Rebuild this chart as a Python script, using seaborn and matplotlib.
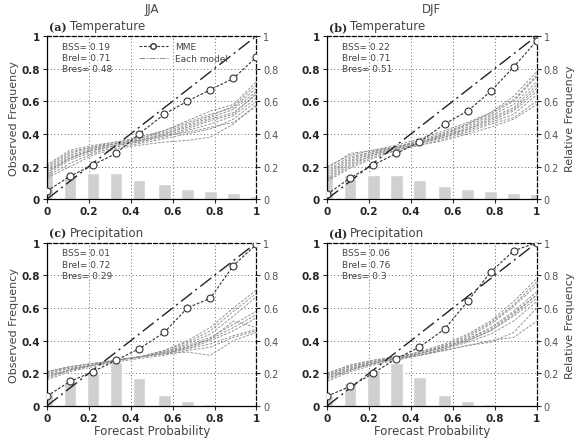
import numpy as np
import pandas as pd
import matplotlib
matplotlib.use("Agg")
import matplotlib.pyplot as plt
import seaborn as sns

sns.set_style("white")
plt.rcParams["font.family"] = ["DejaVu Sans"]

# -----------------------------------
# Data
# -----------------------------------
prob = [0.0, 0.11, 0.22, 0.33, 0.44, 0.56, 0.67, 0.78, 0.89, 1.0]

seasons = ["JJA", "DJF"]
panel_tags = ["(a)", "(b)", "(c)", "(d)"]
panel_vars = ["Temperature", "Temperature", "Precipitation", "Precipitation"]

bss = [0.19, 0.22, 0.01, 0.06]
brel = [0.71, 0.71, 0.72, 0.76]
bres = ["0.48", "0.51", "0.29", "0.3"]

mme_a = [0.05, 0.14, 0.21, 0.28, 0.40, 0.52, 0.60, 0.67, 0.74, 0.87]
mme_b = [0.03, 0.13, 0.21, 0.28, 0.35, 0.46, 0.54, 0.66, 0.81, 0.97]
mme_c = [0.06, 0.15, 0.21, 0.28, 0.35, 0.45, 0.60, 0.66, 0.86, 0.99]
mme_d = [0.06, 0.12, 0.20, 0.29, 0.36, 0.47, 0.64, 0.82, 0.95, 1.00]

hist_a = [0.17, 0.15, 0.16, 0.16, 0.12, 0.09, 0.065, 0.05, 0.04, 0.02]
hist_b = [0.15, 0.15, 0.15, 0.15, 0.12, 0.08, 0.065, 0.05, 0.04, 0.03]
hist_c = [0.08, 0.14, 0.21, 0.27, 0.17, 0.07, 0.03, 0.015, 0.008, 0.0]
hist_d = [0.06, 0.14, 0.22, 0.26, 0.175, 0.07, 0.03, 0.015, 0.008, 0.005]

models_a = [
    [0.21, 0.30, 0.33, 0.35, 0.38, 0.42, 0.47, 0.52, 0.56, 0.68],
    [0.19, 0.28, 0.32, 0.35, 0.37, 0.42, 0.48, 0.54, 0.58, 0.72],
    [0.18, 0.27, 0.31, 0.34, 0.36, 0.40, 0.45, 0.50, 0.55, 0.66],
    [0.17, 0.26, 0.30, 0.33, 0.36, 0.40, 0.44, 0.49, 0.53, 0.64],
    [0.16, 0.25, 0.30, 0.33, 0.35, 0.39, 0.43, 0.48, 0.52, 0.65],
    [0.15, 0.24, 0.29, 0.33, 0.35, 0.38, 0.42, 0.46, 0.51, 0.62],
    [0.20, 0.29, 0.32, 0.34, 0.36, 0.39, 0.41, 0.44, 0.47, 0.57],
    [0.14, 0.22, 0.28, 0.32, 0.34, 0.37, 0.40, 0.43, 0.49, 0.60],
    [0.13, 0.20, 0.27, 0.31, 0.33, 0.35, 0.36, 0.38, 0.46, 0.58],
    [0.17, 0.25, 0.31, 0.34, 0.37, 0.41, 0.46, 0.51, 0.57, 0.70],
]
models_b = [
    [0.20, 0.27, 0.30, 0.33, 0.37, 0.42, 0.47, 0.53, 0.63, 0.78],
    [0.18, 0.26, 0.29, 0.32, 0.36, 0.41, 0.46, 0.52, 0.60, 0.75],
    [0.17, 0.25, 0.29, 0.32, 0.35, 0.40, 0.45, 0.51, 0.58, 0.72],
    [0.16, 0.24, 0.28, 0.32, 0.35, 0.39, 0.44, 0.50, 0.56, 0.70],
    [0.15, 0.23, 0.28, 0.31, 0.34, 0.39, 0.43, 0.49, 0.55, 0.68],
    [0.14, 0.22, 0.27, 0.31, 0.34, 0.38, 0.43, 0.48, 0.54, 0.66],
    [0.13, 0.21, 0.27, 0.31, 0.34, 0.38, 0.42, 0.47, 0.52, 0.64],
    [0.12, 0.20, 0.26, 0.30, 0.33, 0.37, 0.41, 0.46, 0.50, 0.60],
    [0.19, 0.28, 0.30, 0.32, 0.35, 0.40, 0.46, 0.53, 0.61, 0.76],
    [0.11, 0.19, 0.25, 0.30, 0.33, 0.36, 0.40, 0.44, 0.49, 0.58],
]
models_c = [
    [0.21, 0.24, 0.26, 0.28, 0.30, 0.34, 0.40, 0.48, 0.60, 0.71],
    [0.21, 0.24, 0.26, 0.28, 0.30, 0.34, 0.39, 0.46, 0.58, 0.69],
    [0.20, 0.23, 0.25, 0.28, 0.30, 0.33, 0.38, 0.44, 0.55, 0.67],
    [0.20, 0.23, 0.25, 0.28, 0.30, 0.33, 0.37, 0.42, 0.50, 0.58],
    [0.19, 0.22, 0.25, 0.28, 0.30, 0.32, 0.36, 0.41, 0.48, 0.56],
    [0.18, 0.22, 0.25, 0.28, 0.30, 0.32, 0.35, 0.40, 0.46, 0.54],
    [0.17, 0.22, 0.25, 0.28, 0.30, 0.32, 0.35, 0.38, 0.43, 0.47],
    [0.16, 0.21, 0.24, 0.27, 0.29, 0.31, 0.34, 0.36, 0.42, 0.46],
    [0.21, 0.24, 0.26, 0.28, 0.30, 0.33, 0.36, 0.41, 0.52, 0.48],
    [0.18, 0.22, 0.25, 0.28, 0.30, 0.32, 0.33, 0.31, 0.40, 0.45],
]
models_d = [
    [0.20, 0.25, 0.28, 0.30, 0.33, 0.38, 0.44, 0.52, 0.64, 0.78],
    [0.19, 0.24, 0.27, 0.30, 0.33, 0.37, 0.43, 0.51, 0.62, 0.76],
    [0.19, 0.24, 0.27, 0.30, 0.32, 0.37, 0.42, 0.50, 0.61, 0.74],
    [0.18, 0.23, 0.27, 0.29, 0.32, 0.36, 0.41, 0.48, 0.58, 0.70],
    [0.18, 0.23, 0.26, 0.29, 0.32, 0.36, 0.41, 0.47, 0.57, 0.68],
    [0.17, 0.22, 0.26, 0.29, 0.31, 0.35, 0.40, 0.46, 0.55, 0.66],
    [0.16, 0.22, 0.26, 0.29, 0.31, 0.35, 0.39, 0.44, 0.52, 0.64],
    [0.15, 0.21, 0.25, 0.28, 0.31, 0.34, 0.37, 0.40, 0.42, 0.52],
    [0.20, 0.25, 0.28, 0.30, 0.32, 0.36, 0.40, 0.46, 0.56, 0.68],
    [0.17, 0.22, 0.26, 0.29, 0.31, 0.34, 0.37, 0.39, 0.45, 0.60],
]

mme_all = [mme_a, mme_b, mme_c, mme_d]
hist_all = [hist_a, hist_b, hist_c, hist_d]
models_all = [models_a, models_b, models_c, models_d]

ticks = [0, 0.2, 0.4, 0.6, 0.8, 1]
tick_labels = ["0", "0.2", "0.4", "0.6", "0.8", "1"]

# -----------------------------------
# Figure
# -----------------------------------
fig = plt.figure(figsize=(5.79, 4.39), dpi=100)

lefts = [0.081, 0.565]
bottoms = [0.544, 0.073]
w, h = 0.362, 0.372

for i in range(4):
    row, col = divmod(i, 2)
    ax = fig.add_axes([lefts[col], bottoms[row], w, h])

    # histogram of forecast probability
    for xv, hv in zip(prob, hist_all[i]):
        ax.bar(xv, hv, width=0.06, color="#d0d0d0", zorder=1)

    # individual models
    long = pd.DataFrame(
        [(k, x, y) for k, m in enumerate(models_all[i]) for x, y in zip(prob, m)],
        columns=["model", "p", "freq"],
    )
    sns.lineplot(data=long, x="p", y="freq", units="model", estimator=None,
                 color="#8f8f8f", linewidth=0.65, linestyle=(0, (3, 1.5)),
                 ax=ax, zorder=2)

    # perfect reliability
    ax.plot([0, 1], [0, 1], color="#222222", linewidth=1.0,
            linestyle=(0, (10, 3, 1.5, 3)), zorder=3)

    # multi-model ensemble
    sns.lineplot(x=prob, y=mme_all[i], ax=ax, color="#333333", linewidth=0.8,
                 linestyle=(0, (2.5, 1.5)), marker="o", markersize=5,
                 markerfacecolor="white", markeredgecolor="#333333",
                 markeredgewidth=0.8, zorder=4)

    ax.set_xlim(0, 1)
    ax.set_ylim(0, 1)
    ax.set_xticks(ticks)
    ax.set_xticklabels(tick_labels, fontsize=7.5, fontweight="bold")
    ax.set_yticks(ticks)
    ax.set_yticklabels(tick_labels, fontsize=7.5, fontweight="bold")
    ax.tick_params(length=3, width=0.8, pad=2, direction="out", left=True, bottom=True)
    ax.grid(True, color="#666666", linestyle=(0, (1, 2.5)), linewidth=0.7)
    ax.set_axisbelow(True)
    ax.set_xlabel("")
    ax.set_ylabel("")
    for side in ["top", "right"]:
        ax.spines[side].set_linestyle((0, (3, 2)))
    for sp in ax.spines.values():
        sp.set_color("black")
        sp.set_linewidth(0.9)

    ax2 = ax.twinx()
    ax2.set_ylim(0, 1)
    ax2.set_yticks(ticks)
    ax2.set_yticklabels(tick_labels, fontsize=7, color="#555555")
    ax2.tick_params(length=3, width=0.8, pad=2, right=True)
    for sp in ax2.spines.values():
        sp.set_visible(False)

    if col == 0:
        ax.set_ylabel("Observed Frequency", fontsize=8, color="#444444", labelpad=2)
    else:
        ax2.set_ylabel("Relative Frequency", fontsize=8, color="#444444", labelpad=4)
    if row == 1:
        ax.set_xlabel("Forecast Probability", fontsize=8.5, color="#444444", labelpad=1)
    if row == 0:
        ax.text(0.5, 1.13, seasons[col], transform=ax.transAxes, ha="center",
                va="bottom", fontsize=8.5, color="#444444")

    ax.text(0.01, 1.025, panel_tags[i], transform=ax.transAxes, ha="left",
            va="bottom", fontsize=8, fontweight="bold", family="serif")
    ax.text(0.11, 1.025, panel_vars[i], transform=ax.transAxes, ha="left",
            va="bottom", fontsize=8.5, color="#444444")

    stats = f"BSS= {bss[i]:.2f}\nBrel= {brel[i]:.2f}\nBres= {bres[i]}"
    ax.text(0.07, 0.965, stats, transform=ax.transAxes, ha="left", va="top",
            fontsize=6.5, color="#444444", linespacing=1.35)

    if i == 0:
        h_mme = plt.Line2D([], [], color="#333333", linewidth=0.8,
                           linestyle=(0, (2.5, 1.5)), marker="o", markersize=4,
                           markerfacecolor="white")
        h_mod = plt.Line2D([], [], color="#8f8f8f", linewidth=0.7,
                           linestyle=(0, (6, 1.5, 1.5, 1.5)))
        ax.legend([h_mme, h_mod], ["MME", "Each model"], loc="upper left",
                  bbox_to_anchor=(0.4, 1.01), frameon=False, fontsize=6.5,
                  handlelength=3.2, labelspacing=0.3, labelcolor="#444444")

fig.savefig("out.png", dpi=100)
